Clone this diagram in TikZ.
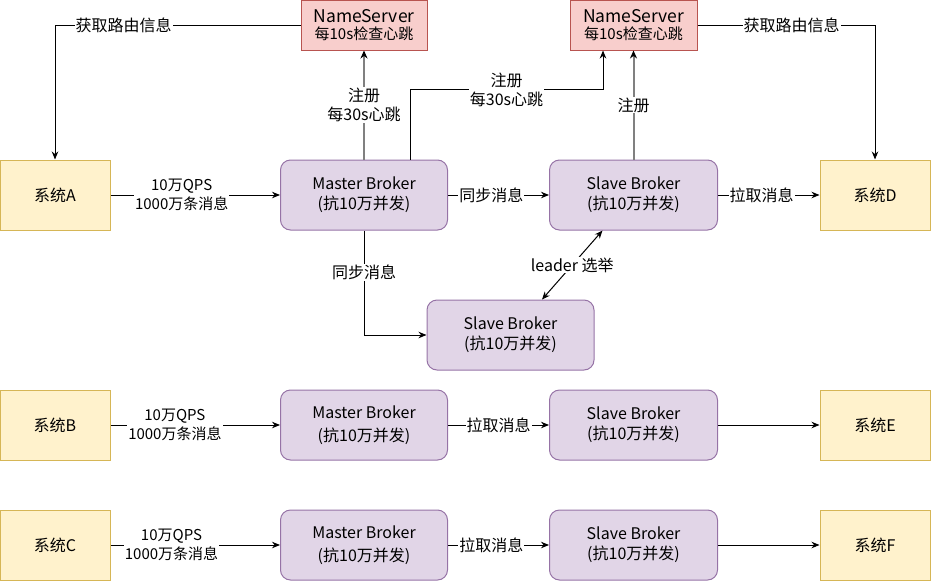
\documentclass[tikz,border=0pt]{standalone}
\usepackage{fontspec}
\setmainfont{Noto Sans CJK SC}
\usetikzlibrary{arrows.meta}
\definecolor{nsfill}{HTML}{F8CECC}
\definecolor{nsdraw}{HTML}{B85450}
\definecolor{sysfill}{HTML}{FFF2CC}
\definecolor{sysdraw}{HTML}{D6B656}
\definecolor{bkfill}{HTML}{E1D5E7}
\definecolor{bkdraw}{HTML}{9673A6}
\definecolor{gline}{HTML}{808080}
\begin{document}
\begin{tikzpicture}[x=1pt,y=-1pt,
  nsbox/.style={draw=nsdraw,fill=nsfill,line width=1pt,minimum width=126pt,minimum height=50pt,inner sep=0pt,align=center,font=\fontsize{17.5}{20}\selectfont},
  sysbox/.style={draw=sysdraw,fill=sysfill,line width=1pt,minimum width=110pt,minimum height=70pt,inner sep=0pt,font=\fontsize{16}{20}\selectfont},
  bkbox/.style={draw=bkdraw,fill=bkfill,line width=1pt,rounded corners=10pt,minimum width=167pt,minimum height=70pt,inner sep=0pt,align=center,font=\fontsize{16}{20}\selectfont},
  conn/.style={line width=1pt,-{Stealth[length=8pt,width=6.5pt]}},
  gconn/.style={line width=2pt,draw=gline,-{Stealth[length=8pt,width=7pt,color=black]}},
  lbl/.style={fill=white,inner sep=1pt,align=center,font=\fontsize{16}{19}\selectfont,text=black},
  qlbl/.style={lbl,font=\fontsize{15}{19}\selectfont}
]
\useasboundingbox (0,0) rectangle (931,581);
% NameServers
\node[nsbox] (ns1) at (364,25) {NameServer\\[-3pt]{\fontsize{15}{16}\selectfont 每10s检查心跳}};
\node[nsbox,minimum width=127pt] (ns2) at (633.5,25) {NameServer\\[-3pt]{\fontsize{15}{16}\selectfont 每10s检查心跳}};
% row 1
\node[sysbox] (sa) at (55,195) {系统A};
\node[bkbox] (m1) at (364,195) {Master Broker\\(抗10万并发)};
\node[bkbox,minimum width=168pt] (s1) at (633.5,195) {Slave Broker\\(抗10万并发)};
\node[sysbox] (sd) at (875,195) {系统D};
\node[bkbox] (s3) at (510.5,335) {Slave Broker\\(抗10万并发)};
% row 2
\node[sysbox] (sb) at (55,425) {系统B};
\node[bkbox] (m2) at (364,425) {Master Broker\\[3pt](抗10万并发)};
\node[bkbox,minimum width=168pt] (s2) at (633.5,425) {Slave Broker\\(抗10万并发)};
\node[sysbox] (se) at (875,425) {系统E};
% row 3
\node[sysbox] (sc) at (55,545) {系统C};
\node[bkbox] (m3) at (364,545) {Master Broker\\[3pt](抗10万并发)};
\node[bkbox,minimum width=168pt] (s4) at (633.5,545) {Slave Broker\\(抗10万并发)};
\node[sysbox] (sf) at (875,545) {系统F};
% connectors
\draw[conn] (ns1.west) -| node[lbl,pos=0.36]{获取路由信息} (sa.north);
\draw[conn] (ns2.east) -| node[lbl,pos=0.265]{获取路由信息} (sd.north);
\draw[gconn] (m1.north) -- node[lbl]{注册\\每30s心跳} (ns1.south);
\draw[conn] ([xshift=46pt]m1.north) -- ++(0,-70) -| node[lbl,pos=0.25]{注册\\每30s心跳} ([xshift=-30.5pt]ns2.south);
\draw[gconn] (s1.north) -- node[lbl]{注册} (ns2.south);
\draw[conn] (sa) -- node[qlbl,pos=0.42]{10万QPS\\1000万条消息} (m1);
\draw[conn] (m1) -- node[lbl,pos=0.43]{同步消息} (s1);
\draw[conn] (s1) -- node[lbl,pos=0.43]{拉取消息} (sd);
\draw[conn] (m1.south) |- node[lbl,pos=0.2]{同步消息} (s3.west);
\draw[line width=1pt,{Stealth[length=8pt,width=6.5pt]}-{Stealth[length=8pt,width=6.5pt]}] ([xshift=31.5pt]s3.north) -- node[lbl]{leader 选举} ([xshift=-31pt]s1.south);
\draw[conn] (sb) -- node[qlbl,pos=0.38]{10万QPS\\1000万条消息} (m2);
\draw[conn] (m2) -- node[lbl]{拉取消息} (s2);
\draw[conn] (s2) -- (se);
\draw[conn] (sc) -- node[qlbl,pos=0.36]{10万QPS\\1000万条消息} (m3);
\draw[conn] (m3) -- node[lbl,pos=0.43]{拉取消息} (s4);
\draw[conn] (s4) -- (sf);
\end{tikzpicture}
\end{document}
